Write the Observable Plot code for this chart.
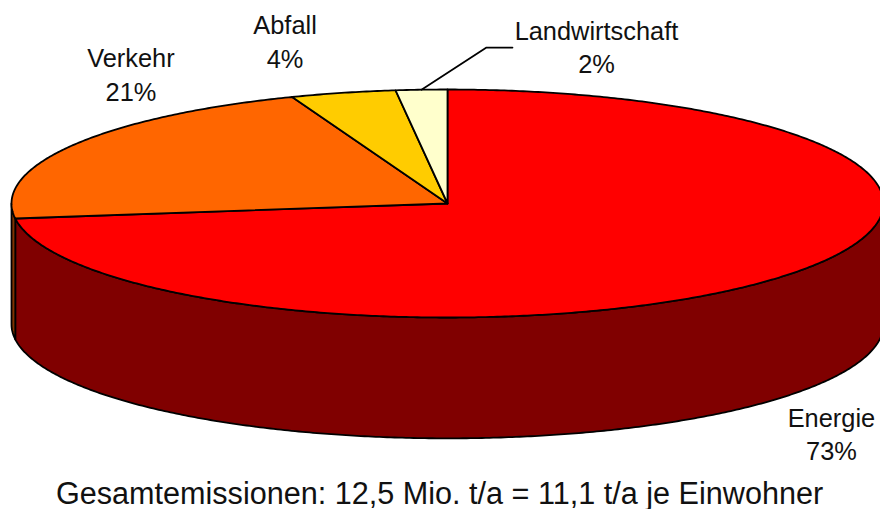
<!DOCTYPE html>
<html>
<head>
<meta charset="utf-8">
<script src="https://cdn.jsdelivr.net/npm/d3@7"></script>
<script src="https://cdn.jsdelivr.net/npm/@observablehq/plot@0.6"></script>
<style>
html,body{margin:0;padding:0;background:#fff;overflow:hidden}
svg{display:block}
</style>
</head>
<body>
<div id="chart"></div>
<script>
const categories = ["Energie", "Verkehr", "Abfall", "Landwirtschaft"];
const shares = [72.9, 21.3, 3.9, 1.9];
const percentLabels = ["73%", "21%", "4%", "2%"];
const caption = "Gesamtemissionen: 12,5 Mio. t/a = 11,1 t/a je Einwohner";

const topColors = ["#ff0000", "#ff6600", "#ffcc00", "#ffffcc"];
const sideColors = ["#800000", "#803300", "#806600", "#808066"];

// Layout of the drawing (not data)
const depth = 1.06;                 // wall height, in units of the vertical radius
const STEP = Math.PI / 360;
const labelOffsets = [[56, 154], [58, -72], [-58, -53], [175, -44]];

const arcs = d3.pie().sort(null)(shares);
const onEllipse = (a, drop = 0) => ({px: Math.sin(a), py: Math.cos(a) - drop});
const sweep = (a0, a1) => {
  const n = Math.max(1, Math.ceil((a1 - a0) / STEP));
  return d3.range(n + 1).map(i => a0 + (a1 - a0) * i / n);
};

// top faces: centre -> rim -> centre
const tops = arcs.flatMap((d, i) => {
  const rim = sweep(d.startAngle, d.endAngle).map(a => onEllipse(a));
  return [{px: 0, py: 0}, ...rim, {px: 0, py: 0}].map(p => ({...p, id: i, color: topColors[i]}));
});

// walls: the part of each slice's rim on the front half of the pie
const walls = arcs.flatMap((d, i) => {
  const a0 = Math.max(d.startAngle, Math.PI / 2);
  const a1 = Math.min(d.endAngle, 3 * Math.PI / 2);
  if (a1 <= a0) return [];
  const rim = sweep(a0, a1);
  const pts = [...rim.map(a => onEllipse(a)), ...rim.reverse().map(a => onEllipse(a, depth))];
  return [...pts, pts[0]].map(p => ({...p, id: "w" + i, color: sideColors[i]}));
});

const labels = arcs.map((d, i) => {
  const m = (d.startAngle + d.endAngle) / 2;
  return {...onEllipse(m), text: categories[i] + "\n" + percentLabels[i], offset: labelOffsets[i]};
});

// leader line of the smallest slice
const leaderStart = labels[3];
const leader = [
  {px: leaderStart.px, py: leaderStart.py},
  {px: 0.0894, py: 1.368},
  {px: 0.149, py: 1.368}
];

const lineStyle = {x: "px", y: "py", z: "id", fill: "color", stroke: "#000", strokeWidth: 1.8,
                   strokeLinejoin: "round", curve: "linear"};
const fontStyle = {fontFamily: "'Liberation Sans', Arial, sans-serif", fill: "#111"};

const chart = Plot.plot({
  width: 880,
  height: 509,
  margin: 0,
  x: {domain: [-1, 1], range: [11, 883], axis: null},
  y: {domain: [-1, 1], range: [317, 89], axis: null},
  marks: [
    Plot.line(walls, lineStyle),
    Plot.line(tops, lineStyle),
    Plot.line(leader, {x: "px", y: "py", stroke: "#000", strokeWidth: 1.8, curve: "linear"}),
    ...labels.map(l => Plot.text([l], {
      x: "px", y: "py", text: "text", dx: l.offset[0], dy: l.offset[1],
      textAnchor: "middle", fontSize: 25.4, lineHeight: 1.33, ...fontStyle
    })),
    Plot.text([caption], {
      frameAnchor: "bottom", dx: -1, dy: -15, lineAnchor: "middle",
      fontSize: 30.6, ...fontStyle
    })
  ]
});
document.getElementById("chart").append(chart);
</script>
</body>
</html>
